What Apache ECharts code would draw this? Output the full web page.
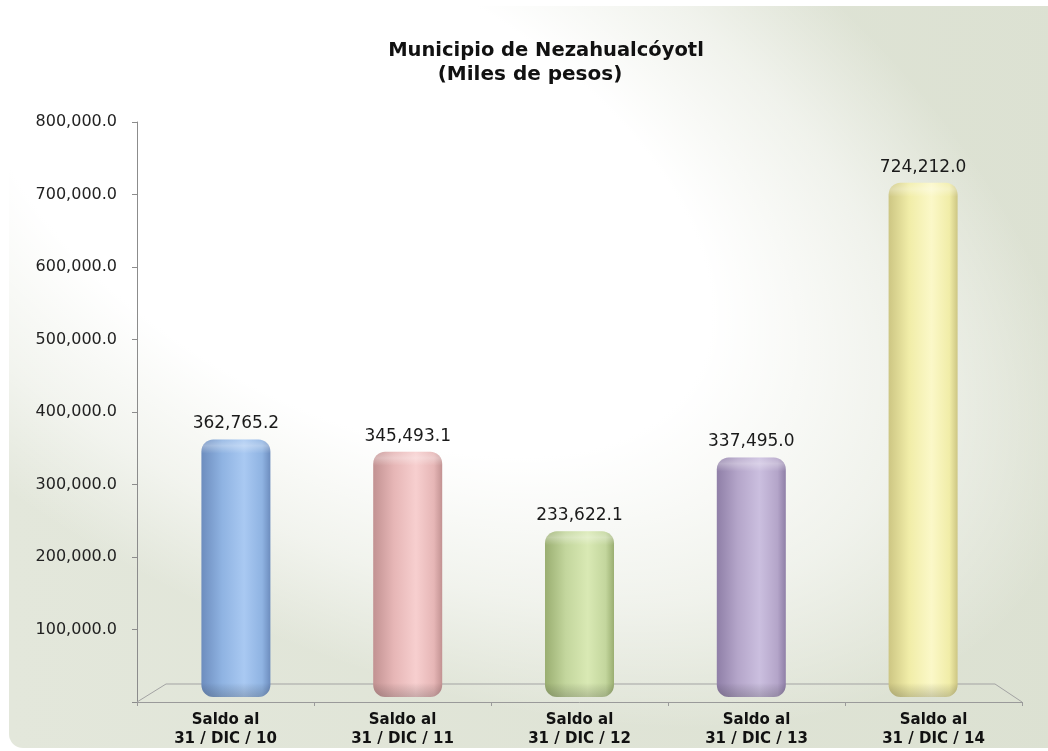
<!DOCTYPE html>
<html>
<head>
<meta charset="utf-8">
<title>Municipio de Nezahualcóyotl</title>
<script src="https://cdn.jsdelivr.net/npm/echarts@6/dist/echarts.min.js"></script>
<style>
  html, body { margin: 0; padding: 0; background: #ffffff; }
  #chart { width: 1048px; height: 751px; }
</style>
</head>
<body>
<div id="chart"></div>
<script>
// Saldo al cierre de cada ejercicio (miles de pesos)
const categories = [
  'Saldo al\n31 / DIC / 10',
  'Saldo al\n31 / DIC / 11',
  'Saldo al\n31 / DIC / 12',
  'Saldo al\n31 / DIC / 13',
  'Saldo al\n31 / DIC / 14'
];
const saldos = [362765.2, 345493.1, 233622.1, 337495.0, 724212.0];
const yMin = 0;
const yMax = 800000;
const yStep = 100000;
const titleLines = ['Municipio de Nezahualcóyotl', '(Miles de pesos)'];

// one palette per cylinder: [edge, base, highlight]
const palettes = [
  ['#6d8dbe', '#8fb3e2', '#a9c9f2'],
  ['#c29292', '#e6b6b6', '#f7cfcf'],
  ['#9aae71', '#c3d69d', '#d9e9b4'],
  ['#8f7fa7', '#b4a5c9', '#cbbfdf'],
  ['#cdc683', '#f1eda8', '#fbf8c8']
];

const W = 1048, H = 751;
const AXIS_GRID = { left: 137, right: 26, top: 122, bottom: 49 };
const BAR_GRID = { left: 150, right: 39, top: 129, bottom: 54 };
const BAR_W = 69;
const FONT = '"DejaVu Sans", Verdana, sans-serif';

const fmt = v => v.toLocaleString('en-US', { minimumFractionDigits: 1, maximumFractionDigits: 1 });

function cylinderFill(p) {
  return new echarts.graphic.LinearGradient(0, 0, 1, 0, [
    { offset: 0, color: p[0] },
    { offset: 0.3, color: p[1] },
    { offset: 0.62, color: p[2] },
    { offset: 0.88, color: p[1] },
    { offset: 1, color: p[0] }
  ]);
}

const chart = echarts.init(document.getElementById('chart'), null, { renderer: 'canvas' });

const option = {
  backgroundColor: '#ffffff',
  animation: false,
  grid: [
    Object.assign({ containLabel: false }, AXIS_GRID),
    Object.assign({ containLabel: false }, BAR_GRID)
  ],
  xAxis: [
    {
      type: 'category', gridIndex: 0, data: categories, boundaryGap: true,
      axisLine: { lineStyle: { color: '#9a9a9a', width: 1 } },
      axisTick: { show: true, length: 4, lineStyle: { color: '#9a9a9a' } },
      axisLabel: { fontFamily: FONT, fontWeight: 'bold', fontSize: 15, color: '#111',
        lineHeight: 19, margin: 9, interval: 0 }
    },
    {
      type: 'category', gridIndex: 1, data: categories, boundaryGap: true,
      axisLine: { show: false }, axisTick: { show: false }, axisLabel: { show: false }
    }
  ],
  yAxis: [
    {
      type: 'value', gridIndex: 0, min: yMin, max: yMax, interval: yStep,
      axisLine: { show: true, lineStyle: { color: '#8c8c8c', width: 1 } },
      axisTick: { show: true, length: 5, lineStyle: { color: '#8c8c8c' } },
      splitLine: { show: false },
      axisLabel: { fontFamily: FONT, fontSize: 16, color: '#222', margin: 20,
        formatter: v => (v === 0 ? '' : fmt(v)) }
    },
    {
      type: 'value', gridIndex: 1, min: yMin, max: yMax, interval: yStep,
      axisLine: { show: false }, axisTick: { show: false }, axisLabel: { show: false },
      splitLine: { show: false }
    }
  ],
  series: [
    {
      type: 'bar', xAxisIndex: 1, yAxisIndex: 1, barWidth: BAR_W, z: 3,
      data: saldos.map((v, i) => ({
        value: v,
        itemStyle: { color: cylinderFill(palettes[i]), borderRadius: 12 }
      })),
      label: {
        show: true, position: 'top', distance: 7,
        fontFamily: FONT, fontSize: 17, color: '#1a1a1a',
        formatter: p => fmt(p.value)
      }
    },
    {
      // shading on the rounded ends of each cylinder
      type: 'custom', xAxisIndex: 1, yAxisIndex: 1, z: 4, silent: true,
      data: saldos.map((v, i) => [i, v]),
      renderItem: (params, api) => {
        const top = api.coord([api.value(0), api.value(1)]);
        const base = api.coord([api.value(0), 0]);
        const x = top[0] - BAR_W / 2;
        return {
          type: 'group',
          children: [
            {
              type: 'rect',
              shape: { x: x, y: top[1], width: BAR_W, height: 14, r: [12, 12, 0, 0] },
              style: { fill: new echarts.graphic.LinearGradient(0, 0, 0, 1, [
                { offset: 0, color: 'rgba(255,255,255,0.10)' },
                { offset: 0.45, color: 'rgba(255,255,255,0.30)' },
                { offset: 1, color: 'rgba(255,255,255,0)' }
              ]) }
            },
            {
              type: 'rect',
              shape: { x: x, y: base[1] - 14, width: BAR_W, height: 14, r: [0, 0, 12, 12] },
              style: { fill: new echarts.graphic.LinearGradient(0, 0, 0, 1, [
                { offset: 0, color: 'rgba(0,0,0,0)' },
                { offset: 1, color: 'rgba(40,40,40,0.22)' }
              ]) }
            }
          ]
        };
      }
    }
  ]
};

chart.setOption(option);

// panel background, title and the 3-D floor drawn from the axis layout
const floorY = chart.convertToPixel({ yAxisIndex: 0 }, 0);
const fl = AXIS_GRID.left, fr = W - AXIS_GRID.right;
const DEPTH = 18, INSET_L = 29, INSET_R = 27;

chart.setOption({
  graphic: [
    {
      type: 'rect', z: -10, silent: true,
      shape: { x: 9, y: 6, width: W + 20, height: 742, r: 14 },
      style: { fill: new echarts.graphic.LinearGradient(0, 0, 1, 0, [
        { offset: 0, color: '#e3e7db' },
        { offset: 1, color: '#dce1d2' }
      ]) }
    },
    {
      // soft white glow spreading from the upper left
      type: 'circle', z: -9, silent: true,
      x: 345, y: 185, scaleX: 800, scaleY: 440, rotation: -0.5,
      shape: { cx: 0, cy: 0, r: 1 },
      style: { fill: new echarts.graphic.RadialGradient(0.5, 0.5, 0.5, [
        { offset: 0, color: 'rgba(255,255,255,1)' },
        { offset: 0.5, color: 'rgba(255,255,255,1)' },
        { offset: 0.77, color: 'rgba(255,255,255,0.55)' },
        { offset: 1, color: 'rgba(255,255,255,0)' }
      ]) }
    },
    {
      type: 'polyline', z: 1, silent: true,
      shape: { points: [
        [fl, floorY], [fl + INSET_L, floorY - DEPTH],
        [fr - INSET_R, floorY - DEPTH], [fr, floorY]
      ] },
      style: { stroke: '#a3a3a3', lineWidth: 1, fill: null }
    },
    {
      type: 'text', z: 10, silent: true, x: 546, y: 51,
      style: { text: titleLines[0], font: 'bold 19.5px ' + FONT, fill: '#111',
        align: 'center', verticalAlign: 'middle' }
    },
    {
      type: 'text', z: 10, silent: true, x: 530, y: 75,
      style: { text: titleLines[1], font: 'bold 20px ' + FONT, fill: '#111',
        align: 'center', verticalAlign: 'middle' }
    }
  ]
});
</script>
</body>
</html>
